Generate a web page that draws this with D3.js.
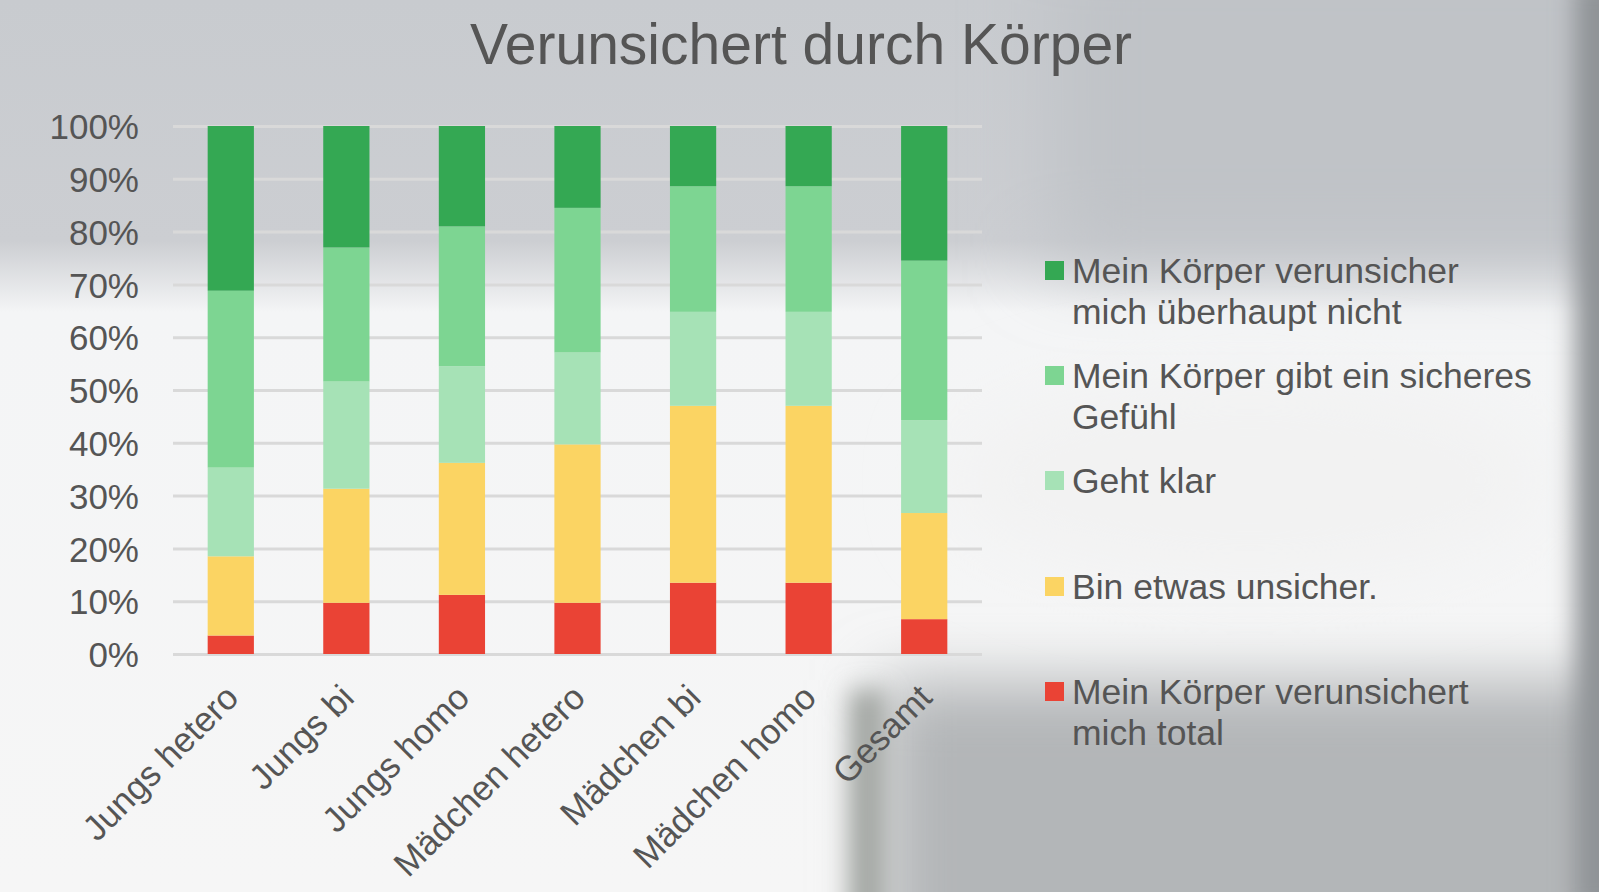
<!DOCTYPE html>
<html>
<head>
<meta charset="utf-8">
<script src="https://cdn.jsdelivr.net/npm/d3@7"></script>
<style>
  html, body { margin: 0; padding: 0; overflow: hidden; }
  svg { display: block; font-family: "Liberation Sans", Arial, sans-serif; }
</style>
</head>
<body>
<div id="chart"></div>
<script>
// Data
const categories = ["Jungs hetero", "Jungs bi", "Jungs homo", "Mädchen hetero", "Mädchen bi", "Mädchen homo", "Gesamt"];
const seriesKeys = ["total", "etwas", "klar", "sicher", "nicht"];
const totalValues  = [3.5, 9.7, 11.2, 9.7, 13.5, 13.5, 6.6];
const etwasValues  = [15.0, 21.6, 25.0, 30.0, 33.5, 33.5, 20.1];
const klarValues   = [16.8, 20.3, 18.3, 17.4, 17.8, 17.8, 17.6];
const sicherValues = [33.5, 25.4, 26.5, 27.4, 23.8, 23.8, 30.2];
const nichtValues  = [31.2, 23.0, 19.0, 15.5, 11.4, 11.4, 25.5];
const yTicks = [0, 10, 20, 30, 40, 50, 60, 70, 80, 90, 100];
const legendLabels = [
  ["Mein Körper verunsicher", "mich überhaupt nicht"],
  ["Mein Körper gibt ein sicheres", "Gefühl"],
  ["Geht klar"],
  ["Bin etwas unsicher."],
  ["Mein Körper verunsichert", "mich total"]
];

/*******************************/
/*    Declare the constants    */
/*******************************/
const width = 1599;
const height = 892;
const margin = {top: 126, right: 617, bottom: 238, left: 173};
const innerWidth = width - margin.left - margin.right;
const innerHeight = height - margin.top - margin.bottom;
const colours = {
  total: "#EA4335",
  etwas: "#FBD463",
  klar: "#A6E2B6",
  sicher: "#7DD592",
  nicht: "#34A853"
};
const textColour = "#555";

const data = categories.map((c, i) => ({
  cat: c,
  total: totalValues[i],
  etwas: etwasValues[i],
  klar: klarValues[i],
  sicher: sicherValues[i],
  nicht: nichtValues[i]
}));

/*******************************/
/*    Append the containers    */
/*******************************/
const svg = d3.select("#chart")
  .append("svg")
    .attr("width", width)
    .attr("height", height)
    .attr("viewBox", `0 0 ${width} ${height}`);

// Photo-like background (grey top, white middle, grey shadow bottom right)
const defs = svg.append("defs");
const topGrad = defs.append("linearGradient")
    .attr("id", "topGrad")
    .attr("x1", 0).attr("y1", 0).attr("x2", 0).attr("y2", 1);
topGrad.append("stop").attr("offset", "0%").attr("stop-color", "#c8cbcf");
topGrad.append("stop").attr("offset", "27%").attr("stop-color", "#ccced2");
topGrad.append("stop").attr("offset", "35%").attr("stop-color", "#f4f5f6");
topGrad.append("stop").attr("offset", "100%").attr("stop-color", "#f6f6f6");
[["blur", 40], ["blurMid", 32], ["blurSmall", 12]].forEach(([id, s]) => {
  defs.append("filter").attr("id", id)
      .attr("filterUnits", "userSpaceOnUse")
      .attr("x", -200).attr("y", -200).attr("width", width + 400).attr("height", height + 400)
    .append("feGaussianBlur").attr("stdDeviation", s);
});

svg.append("rect")
    .attr("width", width).attr("height", height)
    .attr("fill", "url(#topGrad)");
const bg = svg.append("g");
bg.append("rect")
    .attr("x", 1050).attr("y", -80).attr("width", 650).attr("height", 340)
    .attr("fill", "#c0c3c7").attr("filter", "url(#blur)");
bg.append("ellipse")
    .attr("cx", 1250).attr("cy", 480).attr("rx", 300).attr("ry", 100)
    .attr("fill", "#f2f2f2").attr("filter", "url(#blur)");
bg.append("rect")
    .attr("x", 880).attr("y", 680).attr("width", 760).attr("height", 300)
    .attr("fill", "#b3b6b8").attr("filter", "url(#blurMid)");
bg.append("rect")
    .attr("x", 850).attr("y", 690).attr("width", 35).attr("height", 300)
    .attr("fill", "#a2a6a2").attr("filter", "url(#blurSmall)");
bg.append("rect")
    .attr("x", 1575).attr("y", -20).attr("width", 60).attr("height", height + 40)
    .attr("fill", "#8f9396").attr("filter", "url(#blurSmall)");

const innerChart = svg.append("g")
    .attr("transform", `translate(${margin.left}, ${margin.top})`);

/****************************/
/*    Declare the scales    */
/****************************/
const xScale = d3.scaleBand()
  .domain(categories)
  .range([0, innerWidth])
  .paddingInner(0.6)
  .paddingOuter(0.3);

const yScale = d3.scaleLinear()
  .domain([0, 100])
  .range([innerHeight, 0]);

/***************************/
/*     Append the axes     */
/***************************/
const leftAxis = d3.axisLeft(yScale)
  .tickValues(yTicks)
  .tickSize(-innerWidth)
  .tickFormat(d => d + "%");
innerChart.append("g")
    .attr("class", "axis-y")
    .call(leftAxis)
    .attr("font-family", null)
    .attr("font-size", 35)
    .call(g => g.select(".domain").remove())
    .call(g => g.selectAll(".tick line")
        .attr("stroke", "#d9d9d9")
        .attr("stroke-width", 3))
    .call(g => g.selectAll(".tick text")
        .attr("x", -34)
        .attr("dy", "0.36em")
        .attr("fill", textColour));

const bottomAxis = d3.axisBottom(xScale).tickSize(0);
innerChart.append("g")
    .attr("class", "axis-x")
    .attr("transform", `translate(0, ${innerHeight})`)
    .call(bottomAxis)
    .attr("font-family", null)
    .attr("font-size", 35)
    .call(g => g.select(".domain").remove())
    .call(g => g.selectAll(".tick text")
        .attr("text-anchor", "end")
        .attr("transform", "translate(1, 37) rotate(-45)")
        .attr("dy", "0.35em")
        .attr("x", 0).attr("y", 0)
        .attr("fill", textColour));

/***************************/
/*      Stacked bars       */
/***************************/
const stack = d3.stack().keys(seriesKeys);
const series = stack(data);

innerChart.append("g")
  .selectAll("g")
  .data(series)
  .join("g")
    .attr("fill", d => colours[d.key])
  .selectAll("rect")
  .data(d => d)
  .join("rect")
    .attr("x", d => xScale(d.data.cat))
    .attr("y", d => yScale(d[1]))
    .attr("width", xScale.bandwidth())
    .attr("height", d => yScale(d[0]) - yScale(d[1]));

/***************************/
/*         Title           */
/***************************/
svg.append("text")
    .text("Verunsichert durch Körper")
    .attr("x", 801)
    .attr("y", 64)
    .attr("text-anchor", "middle")
    .attr("fill", textColour)
    .attr("font-size", 57);

/***************************/
/*         Legend          */
/***************************/
const legendKeys = ["nicht", "sicher", "klar", "etwas", "total"];
const legendTops = [270, 375, 480, 586, 691];
const legend = svg.append("g");
legendKeys.forEach((k, i) => {
  const item = legend.append("g")
      .attr("transform", `translate(1045, ${legendTops[i]})`);
  item.append("rect")
      .attr("x", 0).attr("y", -9)
      .attr("width", 19).attr("height", 19)
      .attr("fill", colours[k]);
  item.append("text")
      .attr("x", 27)
      .attr("y", 0)
      .attr("fill", textColour)
      .attr("font-size", 35.5)
    .selectAll("tspan")
    .data(legendLabels[i])
    .join("tspan")
      .attr("x", 27)
      .attr("dy", (d, j) => j === 0 ? "0.36em" : "1.17em")
      .text(d => d);
});
</script>
</body>
</html>
